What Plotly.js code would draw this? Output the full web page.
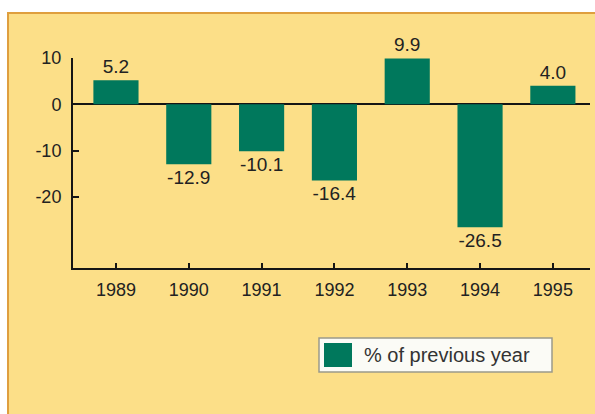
<!DOCTYPE html>
<html>
<head>
<meta charset="utf-8">
<script src="https://cdn.plot.ly/plotly-3.0.1.min.js"></script>
<style>
  html, body { margin: 0; padding: 0; background: #ffffff; }
  #chart { width: 595px; height: 414px; }
</style>
</head>
<body>
<div id="chart"></div>
<script>
// Annual change, % of previous year
const years = ['1989', '1990', '1991', '1992', '1993', '1994', '1995'];
const changePct = [5.2, -12.9, -10.1, -16.4, 9.9, -26.5, 4.0];
const yTicks = [10, 0, -10, -20];
const seriesName = '% of previous year';

const barColor = '#00785c';
const panelColor = '#fcdf88';
const borderColor = '#df9f3e';
const inkColor = '#222222';
const fontFamily = '"Liberation Sans", Arial, sans-serif';

const trace = {
  type: 'bar',
  x: years,
  y: changePct,
  width: 0.62,
  marker: { color: barColor, line: { width: 0 } },
  text: changePct.map(v => v.toFixed(1)),
  textposition: 'outside',
  textfont: { family: fontFamily, size: 19, color: inkColor },
  constraintext: 'none',
  cliponaxis: false,
  hoverinfo: 'x+y',
  showlegend: false
};

const layout = {
  width: 595,
  height: 414,
  margin: { l: 73, r: 5, t: 58, b: 146, pad: 0 },
  paper_bgcolor: '#ffffff',
  plot_bgcolor: 'rgba(0,0,0,0)',
  font: { family: fontFamily, size: 18, color: inkColor },
  showlegend: false,
  xaxis: {
    type: 'category',
    range: [-0.59, 6.51],
    showline: true,
    linecolor: '#151515',
    linewidth: 2,
    ticks: 'inside',
    ticklen: 5,
    tickwidth: 2,
    tickcolor: '#151515',
    showgrid: false,
    zeroline: false,
    ticklabelstandoff: 4,
    tickfont: { family: fontFamily, size: 18, color: inkColor },
    fixedrange: true
  },
  yaxis: {
    range: [-35.3, 10],
    tickvals: yTicks,
    ticktext: yTicks.map(String),
    showline: true,
    linecolor: '#151515',
    linewidth: 2,
    ticks: 'inside',
    ticklen: 6,
    tickwidth: 2,
    tickcolor: '#151515',
    showgrid: false,
    zeroline: true,
    zerolinecolor: '#151515',
    zerolinewidth: 2,
    ticklabelstandoff: 6,
    tickfont: { family: fontFamily, size: 18, color: inkColor },
    fixedrange: true
  },
  shapes: [
    // yellow panel with orange frame (top and left edges visible)
    {
      type: 'rect', xref: 'paper', yref: 'paper', layer: 'below',
      x0: -0.1257, x1: 1.05, y0: -0.8, y1: 1.214,
      fillcolor: panelColor,
      line: { color: borderColor, width: 2 }
    },
    // legend box
    {
      type: 'rect', xref: 'paper', yref: 'paper', layer: 'above',
      x0: (319 - 73) / 517, x1: (552 - 73) / 517,
      y0: (268 - 372) / 210, y1: (268 - 338) / 210,
      fillcolor: '#fbfbf6',
      line: { color: '#9a9a8a', width: 1.5 }
    },
    // legend swatch
    {
      type: 'rect', xref: 'paper', yref: 'paper', layer: 'above',
      x0: (324 - 73) / 517, x1: (352 - 73) / 517,
      y0: (268 - 367) / 210, y1: (268 - 343) / 210,
      fillcolor: barColor,
      line: { width: 0 }
    }
  ],
  annotations: [
    {
      xref: 'paper', yref: 'paper',
      x: (362 - 73) / 517, y: (268 - 355) / 210,
      xanchor: 'left', yanchor: 'middle',
      text: seriesName,
      showarrow: false,
      font: { family: fontFamily, size: 20, color: '#333333' }
    }
  ]
};

Plotly.newPlot('chart', [trace], layout, { displayModeBar: false, staticPlot: true });
</script>
</body>
</html>
